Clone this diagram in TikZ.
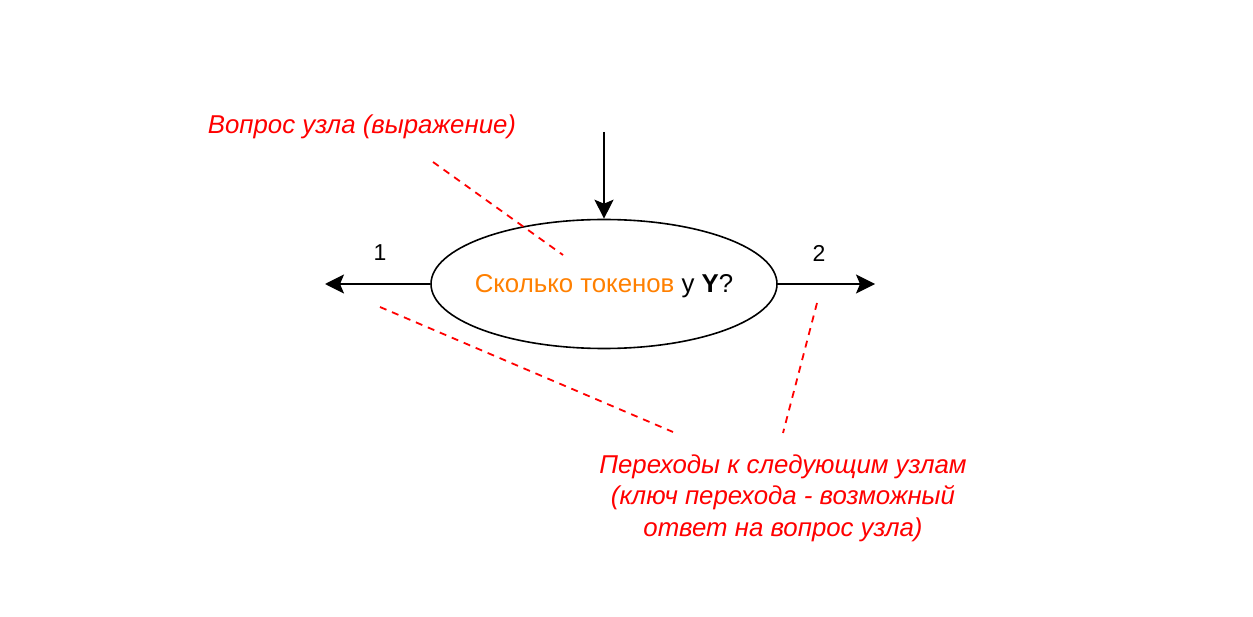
\documentclass[tikz,border=0pt]{standalone}
\usepackage{fontspec}
\setmainfont{Liberation Sans}
\usetikzlibrary{arrows.meta,shapes.geometric}
\definecolor{drawred}{HTML}{FF0000}
\definecolor{draworange}{HTML}{FF8000}
\tikzset{
  conn/.style={line width=1.6pt, -{Stealth[length=19pt, width=19pt, inset=4pt]}},
  note/.style={drawred, line width=1.8pt, dash pattern=on 7pt off 6pt},
  notetext/.style={text=drawred, font=\fontsize{25.8}{31.5}\selectfont\itshape, align=center, inner sep=0pt},
  edgelabel/.style={font=\fontsize{23}{27}\selectfont, inner sep=0pt},
}
\begin{document}
\begin{tikzpicture}[x=1pt, y=-1pt]
\useasboundingbox (0,0) rectangle (1253,617);
\fill[white] (0,0) rectangle (1253,617);
\node[draw, line width=1.6pt, ellipse, minimum width=346pt, minimum height=129pt, inner sep=0pt] (q) at (604,284) {};
\node[font=\fontsize{25.8}{31}\selectfont, inner sep=0pt] (qt) at (604,286)
  {\textcolor{draworange}{Сколько токенов} у \textbf{Y}?};
\coordinate (in) at (604,132);
\coordinate (out1) at (325,284);
\coordinate (out2) at (875,284);
\draw[conn] (in) -- (q.north);
\draw[conn] (q.west) -- (out1);
\draw[conn] (q.east) -- (out2);
\node[edgelabel] (l1) at (380,253) {1};
\node[edgelabel] (l2) at (819,253) {2};
\node[notetext] (t1) at (362,127) {Вопрос узла (выражение)};
\node[notetext] (t2) at (783,498) {Переходы к следующим узлам\\(ключ перехода - возможный\\ответ на вопрос узла)};
\coordinate (a1) at (433,162);
\coordinate (a2) at (563,255);
\coordinate (b1) at (380,307);
\coordinate (b2) at (673,432);
\coordinate (c1) at (817,303);
\coordinate (c2) at (783,433);
\draw[note] (a1) -- (a2);
\draw[note] (b1) -- (b2);
\draw[note] (c1) -- (c2);
\end{tikzpicture}
\end{document}
